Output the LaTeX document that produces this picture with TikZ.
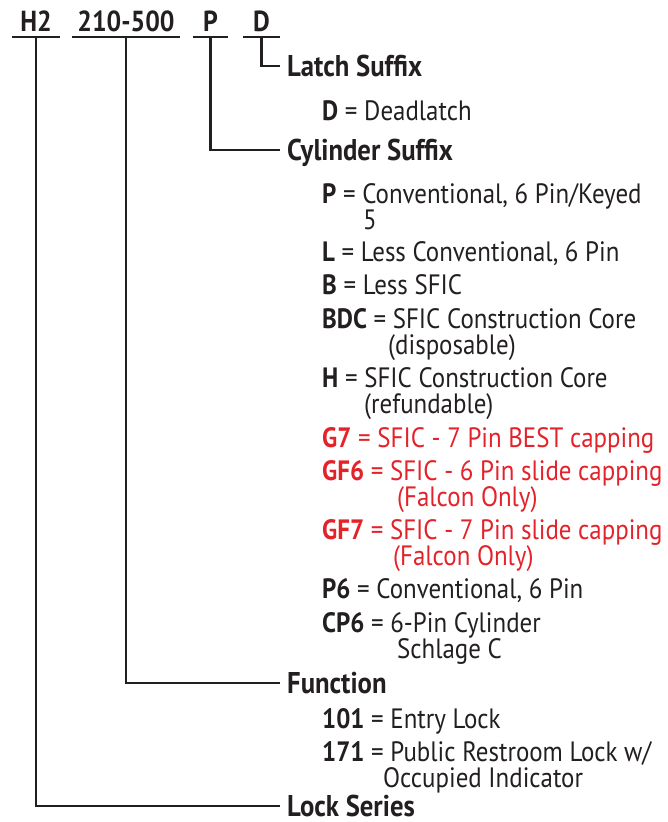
\documentclass[tikz,border=0pt]{standalone}
\usepackage{fontspec}
\setmainfont{PT Sans}[FakeStretch=0.89]
\usepackage{tikz}
\usetikzlibrary{positioning}
\usepackage{xcolor}
\definecolor{cInk}{HTML}{231F20}
\definecolor{cRed}{HTML}{E42229}

\begin{document}
\begin{tikzpicture}[x=1pt, y=-1pt,
  rule/.style={draw=cInk, line width=2.4pt},
  code/.style={font=\fontsize{29}{31}\selectfont\bfseries, text=cInk, inner sep=0pt, text depth=5pt, anchor=south, minimum width=#1},
  head/.style={font=\fontsize{30}{32}\selectfont\bfseries, text=cInk, inner xsep=7pt, inner ysep=0pt, text height=21pt, text depth=0pt, anchor=west},
  item/.style={font=\fontsize{28}{30}\selectfont, text=cInk, inner sep=0pt, anchor=base west},
  itemred/.style={item, text=cRed},
]
\useasboundingbox (0,0) rectangle (668,822);

% model number
\node[code=48] (h2) at (36,37) {H2};
\node[code=108] (fn) at (126,37) {210-500};
\node[code=35] (cyl) at (210.5,37) {P};
\node[code=37] (latch) at (261.5,37) {D};
\draw[rule] (h2.south west) -- (h2.south east);
\draw[rule] (fn.south west) -- (fn.south east);
\draw[rule] (cyl.south west) -- (cyl.south east);
\draw[rule] (latch.south west) -- (latch.south east);

% headings
\node[head] (latchH) at (280,66) {Latch Suffix};
\node[head] (cylH) at (280,150) {Cylinder Suffix};
\node[head] (fnH) at (280,683) {Function};
\node[head] (seriesH) at (280,806) {Lock Series};

\draw[rule] (latch.south) |- (latchH.west);
\draw[rule] (cyl.south) |- (cylH.west);
\draw[rule] (fn.south) |- (fnH.west);
\draw[rule] (h2.south) |- (seriesH.west);

% latch
\node[item] (dl) at (322,120) {\textbf{D} = Deadlatch};

% cylinder
\node[item] (cP) at (322,203) {\textbf{P} = Conventional, 6 Pin/Keyed};
\node[item] (cP2) at (363,229) {5};
\node[item] (cL) at (322,261) {\textbf{L} = Less Conventional, 6 Pin};
\node[item] (cB) at (322,294) {\textbf{B} = Less SFIC};
\node[item] (cBDC) at (322,328) {\textbf{BDC} = SFIC Construction Core};
\node[item] (cBDC2) at (388,354) {(disposable)};
\node[item] (cH) at (322,387) {\textbf{H} = SFIC Construction Core};
\node[item] (cH2) at (364,413) {(refundable)};
\node[itemred] (cG7) at (322,447) {\textbf{G7} = SFIC - 7 Pin BEST capping};
\node[itemred] (cGF6) at (322,480) {\textbf{GF6} = SFIC - 6 Pin slide capping};
\node[itemred] (cGF62) at (397,506) {(Falcon Only)};
\node[itemred] (cGF7) at (322,539) {\textbf{GF7} = SFIC - 7 Pin slide capping};
\node[itemred] (cGF72) at (393,565) {(Falcon Only)};
\node[item] (cP6) at (322,598) {\textbf{P6} = Conventional, 6 Pin};
\node[item] (cCP6) at (322,632) {\textbf{CP6} = 6-Pin Cylinder};
\node[item] (cCP62) at (397,658) {Schlage C};

% function
\node[item] (f101) at (322,728) {\textbf{101} = Entry Lock};
\node[item] (f171) at (322,761) {\textbf{171} = Public Restroom Lock w/};
\node[item] (f1712) at (383,787) {Occupied Indicator};
\end{tikzpicture}
\end{document}
